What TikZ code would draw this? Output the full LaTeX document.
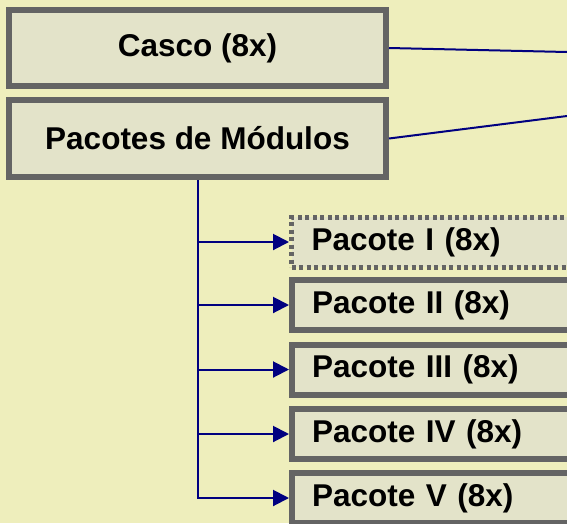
\documentclass[tikz,border=0pt]{standalone}
\usepackage{fontspec}
\setmainfont{Liberation Sans}
\usetikzlibrary{arrows.meta}
\definecolor{bgc}{RGB}{238,238,188}
\definecolor{boxfill}{RGB}{227,227,201}
\definecolor{boxline}{RGB}{100,100,100}
\definecolor{conn}{RGB}{0,0,128}
\tikzset{
  bigbox/.style={draw=boxline, fill=boxfill, line width=6pt, minimum width=377pt, inner sep=0pt,
    font=\fontsize{31.5}{36}\selectfont\bfseries},
  pkgbox/.style={draw=boxline, fill=boxfill, line width=6pt, minimum height=50pt, anchor=west,
    text width=330pt, inner xsep=20pt, inner ysep=0pt, align=left,
    font=\fontsize{31.5}{36}\selectfont\bfseries},
  dashbox/.style={pkgbox, line width=5pt, dash pattern=on 4pt off 3.5pt},
  link/.style={draw=conn, line width=2pt},
  branch/.style={link, -{Triangle[length=16pt,width=16pt]}}
}
\begin{document}
\begin{tikzpicture}[x=1pt,y=-1pt]
\useasboundingbox (0,0) rectangle (567,523);
\clip (0,0) rectangle (567,523);
\fill[bgc] (0,0) rectangle (567,523);
\node[bigbox, minimum height=76pt] (casco) at (197.5,48) {Casco (8x)};
\node[bigbox, minimum height=77pt] (pac) at (197.5,138.5) {Pacotes de Módulos};
\node[dashbox] (p1) at (289,242) {Pacote I (8x)};
\node[pkgbox] (p2) at (289,305) {Pacote II (8x)};
\node[pkgbox] (p3) at (289,369.5) {Pacote III (8x)};
\node[pkgbox] (p4) at (289,434) {Pacote IV (8x)};
\node[pkgbox] (p5) at (289,498) {Pacote V (8x)};
\coordinate (cR) at (567,52);
\coordinate (pR) at (567,116);
\draw[link] (casco.east) -- (cR);
\draw[link] (pac.east) -- (pR);
\foreach \p in {p1,p2,p3,p4,p5}{
  \draw[branch] (pac.south) |- (\p.west);
}
\end{tikzpicture}
\end{document}
